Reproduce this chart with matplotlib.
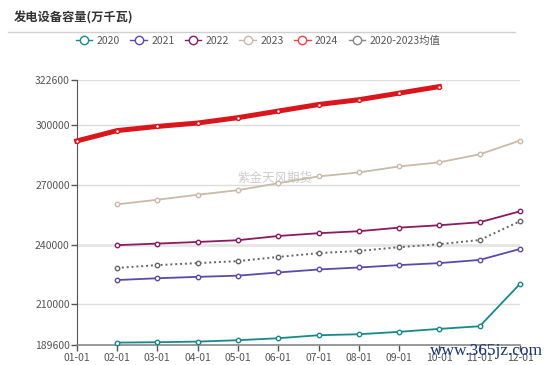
import numpy as np
import matplotlib
matplotlib.use("Agg")
import matplotlib.pyplot as plt
from matplotlib.lines import Line2D

plt.rcParams['font.family'] = ['Noto Sans CJK SC', 'DejaVu Sans']

# Monate (x-Achse)
months = ["01-01", "02-01", "03-01", "04-01", "05-01", "06-01",
          "07-01", "08-01", "09-01", "10-01", "11-01", "12-01"]

nan = np.nan
# Werte in 万千瓦
v2020 = [nan, 190800, 191000, 191300, 192000, 193000, 194500, 195000, 196200, 197700, 199000, 220300]
v2021 = [nan, 222200, 223100, 223800, 224400, 226000, 227500, 228500, 229700, 230700, 232300, 237800]
v2022 = [nan, 239700, 240500, 241300, 242200, 244300, 245700, 246700, 248500, 249700, 251200, 256700]
v2023 = [nan, 260200, 262500, 265000, 267300, 270800, 274200, 276200, 279200, 281300, 285300, 292200]
v2024 = [292000, 297200, 299300, 301000, 303700, 307000, 310300, 312700, 316000, 319300]
v_avg = [nan, 228300, 229700, 230700, 231700, 233800, 235700, 236800, 238700, 240200, 242300, 251700]

y_ticks = [189600, 210000, 240000, 270000, 300000, 322600]

# Farben
c2020 = "#17898a"
c2021 = "#5a4aae"
c2022 = "#8c1a5e"
c2023 = "#c9baa9"
c2024 = "#d9161c"
c_avg = "#666666"

fig = plt.figure(figsize=(5.5, 3.65), dpi=100)
ax = fig.add_axes([76.7 / 550, 1 - 345 / 365, (520 - 76.7) / 550, (345 - 80) / 365])

x = np.arange(len(months))

def draw(vals, color, lw=1.3, ls="-", ms=3.2, z=3):
    xs = x[:len(vals)]
    ax.plot(xs, vals, color=color, lw=lw, ls=ls, marker="o", ms=ms,
            markerfacecolor="white", markeredgecolor=color, markeredgewidth=1.0,
            zorder=z, clip_on=False)

draw(v2020, c2020)
draw(v2021, c2021)
draw(v2022, c2022)
draw(v2023, c2023)
draw(v_avg, c_avg, lw=1.4, ls=(0, (1, 1.5)))
draw(v2024, c2024, lw=3.6, ms=2.8, z=4)

ax.set_xlim(0, 11)
ax.set_ylim(189600, 322600)
ax.set_xticks(x)
ax.set_xticklabels(months)
ax.set_yticks(y_ticks)
ax.set_yticklabels([str(v) for v in y_ticks])

# Gitterlinien
for yv in y_ticks[1:]:
    ax.axhline(yv, color="#e6e6e6" if yv == 240000 else "#dddddd",
               lw=2.2 if yv == 240000 else 1.0, zorder=1)

for s in ["top", "right"]:
    ax.spines[s].set_visible(False)
ax.spines["left"].set_color("#555555")
ax.spines["bottom"].set_color("#888888")
ax.spines["bottom"].set_linewidth(1.2)
ax.tick_params(axis="both", colors="#555555", labelsize=7.5, length=4, width=1)
ax.tick_params(axis="x", pad=2, labelcolor="#555555")
ax.tick_params(axis="y", pad=1)

# Titel und Trennlinie
fig.text(14 / 550, 1 - 18 / 365, "发电设备容量(万千瓦)", fontsize=8.8, fontweight="bold",
         color="#333333", ha="left", va="center")
fig.add_artist(Line2D([8 / 550, 515 / 550], [1 - 32 / 365, 1 - 32 / 365],
                      color="#d0d0d0", lw=1.0))

# Legende
labels = ["2020", "2021", "2022", "2023", "2024", "2020-2023均值"]
lcolors = [c2020, c2021, c2022, c2023, "#ee4444", "#888888"]
handles = [Line2D([0], [0], color=c, lw=1.0, marker="o", ms=6,
                  markerfacecolor="white", markeredgecolor=c, markeredgewidth=1.0)
           for c in lcolors]
leg = fig.legend(handles, labels, loc="center", bbox_to_anchor=(258 / 550, 1 - 41 / 365),
                 ncol=6, frameon=False, fontsize=7.5, handlelength=1.6,
                 handletextpad=0.4, columnspacing=1.0, labelcolor="#555555")

# Wasserzeichen
ax.text(275 / 550, 1 - 178 / 365, "紫金天风期货", transform=fig.transFigure,
        fontsize=9, color="#cccccc", ha="center", va="center", zorder=2)
fig.text(486 / 550, 1 - 351 / 365, "www.365jz.com", family="Liberation Serif",
         fontsize=12.5, color="#1a3575", ha="center", va="center", zorder=10)

fig.savefig("out.png", dpi=100)
